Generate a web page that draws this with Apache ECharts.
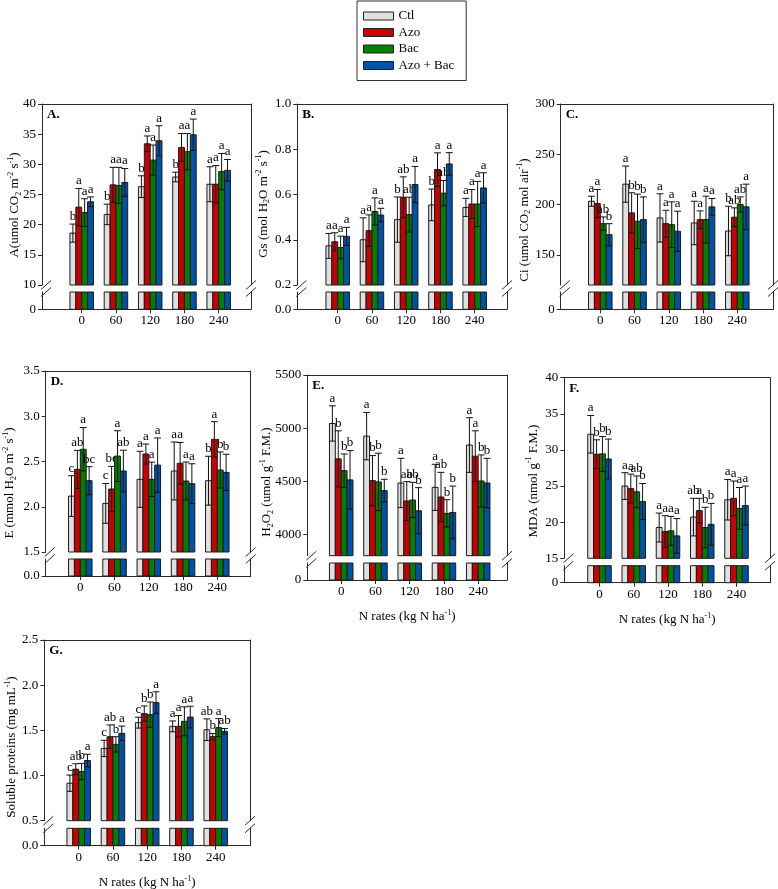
<!DOCTYPE html>
<html><head><meta charset="utf-8">
<script src="https://cdn.jsdelivr.net/npm/echarts@6/dist/echarts.min.js"></script>
<style>html,body{margin:0;padding:0;background:#fff}#chart{width:778px;height:889px}</style>
</head><body><div id="chart"></div>
<script>
// ---------------- DATA ----------------
const nRates = [0, 60, 120, 180, 240];
const treatments = ['Ctl', 'Azo', 'Bac', 'Azo + Bac'];

// rows: Ctl, Azo, Bac, Azo+Bac ; columns: N rates
const A_mean = [[18.6, 21.7, 26.3, 27.9, 26.7],[22.9, 26.6, 33.4, 32.8, 26.7],[22.0, 26.5, 30.7, 32.1, 28.8],[23.8, 27.0, 33.9, 34.9, 29.0]];
const A_sd   = [[1.5, 1.7, 1.8, 0.8, 2.9],[3.1, 2.9, 1.3, 2.3, 3.1],[2.3, 3.0, 2.5, 3.0, 3.0],[0.8, 2.3, 2.5, 2.6, 1.8]];
const A_sig  = [['b','b','b','b','a'],['a','a','a','a','a'],['a','a','a','a','a'],['a','a','a','a','a']];
const A_ticks = [10, 15, 20, 25, 30, 35, 40];

const B_mean = [[0.373, 0.40, 0.489, 0.554, 0.543],[0.391, 0.44, 0.588, 0.71, 0.558],[0.366, 0.525, 0.511, 0.606, 0.558],[0.415, 0.509, 0.644, 0.735, 0.629]];
const B_sd   = [[0.055, 0.097, 0.10, 0.07, 0.04],[0.04, 0.07, 0.09, 0.074, 0.064],[0.05, 0.06, 0.077, 0.056, 0.10],[0.04, 0.03, 0.08, 0.05, 0.067]];
const B_sig  = [['a','a','b','b','a'],['a','a','ab','a','a'],['a','a','ab','ab','a'],['a','a','a','a','a']];
const B_ticks = [0.2, 0.4, 0.6, 0.8, 1.0];

const C_mean = [[203.3, 220.3, 186.7, 181.7, 173.7],[201, 191.7, 181, 185, 187.4],[181, 183.4, 180, 185, 200],[170, 185, 173.4, 197.7, 197.7]];
const C_sd   = [[5, 18, 24, 21.6, 24.6],[14, 20, 13.3, 8.7, 9.3],[6.7, 27, 22.7, 23.3, 7.6],[11, 22.6, 20, 8.3, 22.6]];
const C_sig  = [['a','a','a','a','b'],['a','b','a','a','ab'],['ab','b','a','a','ab'],['b','b','a','a','a']];
const C_ticks = [150, 200, 250, 300];

const D_mean = [[2.118, 2.037, 2.303, 2.395, 2.288],[2.413, 2.196, 2.583, 2.48, 2.745],[2.635, 2.56, 2.303, 2.284, 2.406],[2.288, 2.395, 2.46, 2.255, 2.38]];
const D_sd   = [[0.225, 0.22, 0.31, 0.32, 0.27],[0.21, 0.25, 0.11, 0.23, 0.195],[0.24, 0.28, 0.19, 0.21, 0.2],[0.155, 0.23, 0.3, 0.22, 0.2]];
const D_sig  = [['c','c','a','a','b'],['ab','bc','a','a','a'],['a','a','a','a','b'],['bc','ab','a','a','b']];
const D_ticks = [1.5, 2.0, 2.5, 3.0, 3.5];

const E_mean = [[5044, 4925, 4484, 4443, 4841],[4711, 4506, 4315, 4352, 4736],[4600, 4494, 4324, 4198, 4503],[4513, 4412, 4223, 4207, 4484]];
const E_sd   = [[166, 223, 232, 217, 257],[264, 236, 182, 232, 239],[157, 270, 166, 129, 245],[276, 107, 217, 248, 232]];
const E_sig  = [['a','a','a','a','a'],['b','b','ab','ab','a'],['b','b','ab','b','b'],['b','b','b','b','b']];
const E_ticks = [4000, 4500, 5000, 5500];

const F_mean = [[32.17, 25.0, 19.26, 20.7, 23.1],[29.4, 24.65, 18.7, 21.6, 23.3],[29.45, 24.2, 18.8, 19.26, 21.9],[28.75, 22.85, 18.1, 19.7, 22.3]];
const F_sd   = [[2.6, 1.85, 2.0, 2.6, 2.8],[2.0, 2.0, 2.2, 1.7, 2.4],[2.4, 2.2, 2.0, 2.8, 2.9],[2.75, 2.5, 2.4, 2.9, 2.7]];
const F_sig  = [['a','a','a','ab','a'],['b','a','a','a','a'],['b','ab','a','b','a'],['b','b','a','b','a']];
const F_ticks = [15, 20, 25, 30, 35, 40];

const G_mean = [[0.915, 1.30, 1.585, 1.544, 1.507],[1.07, 1.43, 1.685, 1.544, 1.43],[1.044, 1.345, 1.674, 1.6, 1.53],[1.166, 1.467, 1.807, 1.647, 1.49]];
const G_sd   = [[0.09, 0.09, 0.06, 0.06, 0.12],[0.06, 0.13, 0.085, 0.12, 0.035],[0.09, 0.085, 0.14, 0.16, 0.1],[0.07, 0.08, 0.12, 0.12, 0.03]];
const G_sig  = [['c','c','c','a','ab'],['ab','ab','b','a','b'],['b','b','b','a','a'],['a','a','a','a','ab']];
const G_ticks = [0.5, 1.0, 1.5, 2.0, 2.5];

const yTitles = {
  A: 'A(umol CO{sub|2} m{sup|-2} s{sup|-1})',
  B: 'Gs (mol H{sub|2}O m{sup|-2} s{sup|-1})',
  C: 'Ci (umol CO{sub|2} mol air{sup|-1})',
  D: 'E (mmol H{sub|2}O m{sup|-2} s{sup|-1})',
  E: 'H{sub|2}O{sub|2} (umol g{sup|-1} F.M.)',
  F: 'MDA (nmol g{sup|-1} F.M.)',
  G: 'Soluble proteins (mg mL{sup|-1})'
};
const xTitle = 'N rates (kg N ha{sup|-1})';

// ---------------- LAYOUT / STYLE ----------------
const COLORS = ['#e0e0e0', '#cc0000', '#008000', '#0052a6'];
const FONT = '"Liberation Serif","Times New Roman",serif';
const PXU = 34.25 / 60;      // px per N unit
const BW = 10.3;             // bar width in N units
const panels = [
  {id:'A', mean:A_mean, sd:A_sd, sig:A_sig, ticks:A_ticks, ymin:10,   ymax:40,   dec:0, L:42,    R:251,   x0:81.7,  T:104,   UB:285,   LT:292,   B:309.3, tx:15,    ty:205, xt:false},
  {id:'B', mean:B_mean, sd:B_sd, sig:B_sig, ticks:B_ticks, ymin:0.2,  ymax:1.0,  dec:1, L:297.3, R:507,   x0:337.7, T:104,   UB:285,   LT:292,   B:309.3, tx:263.3, ty:204, xt:false},
  {id:'C', mean:C_mean, sd:C_sd, sig:C_sig, ticks:C_ticks, ymin:120,  ymax:300,  dec:0, L:560.7, R:773,   x0:600.3, T:104,   UB:285,   LT:292,   B:309.3, tx:524.3, ty:220, xt:false},
  {id:'D', mean:D_mean, sd:D_sd, sig:D_sig, ticks:D_ticks, ymin:1.5,  ymax:3.5,  dec:1, L:45.7,  R:250.7, x0:80.3,  T:371,   UB:552,   LT:559,   B:576,   tx:10,    ty:483, xt:false},
  {id:'E', mean:E_mean, sd:E_sd, sig:E_sig, ticks:E_ticks, ymin:3800, ymax:5500, dec:0, L:307.3, R:507,   x0:341.2, T:375,   UB:555.7, LT:563,   B:580,   tx:266.7, ty:482, xt:true},
  {id:'F', mean:F_mean, sd:F_sd, sig:F_sig, ticks:F_ticks, ymin:15,   ymax:40,   dec:0, L:564.3, R:770,   x0:599.5, T:377.7, UB:558.3, LT:565.7, B:582.7, tx:533.3, ty:481, xt:true},
  {id:'G', mean:G_mean, sd:G_sd, sig:G_sig, ticks:G_ticks, ymin:0.5,  ymax:2.5,  dec:1, L:44.3,  R:250,   x0:78.7,  T:640,   UB:820.7, LT:828.3, B:845.7, tx:11.7,  ty:747, xt:true}
];

const LINE = '#2a2a2a';
const grids = [], xAxes = [], yAxes = [], series = [], graphics = [];
const richT = {
  sup: {fontSize: 8, lineHeight: 8, verticalAlign: 'top', fontFamily: FONT, fill: '#000', color: '#000'},
  sub: {fontSize: 8, lineHeight: 8, verticalAlign: 'bottom', fontFamily: FONT, fill: '#000', color: '#000'}
};

function makeRender(p, k, part) {
  return function (params, api) {
    const x = api.value(0), m = api.value(1), sd = api.value(2);
    const lo = part === 'upper' ? p.ymin : 0;
    const hi = part === 'upper' ? p.ymax : p.ymin;
    const left = x - 2 * BW + k * BW;
    const pTop = api.coord([left, Math.min(m, hi)]);
    const pBase = api.coord([left, lo]);
    const w = api.size([BW, 0])[0];
    const ch = [{
      type: 'rect',
      shape: {x: pTop[0], y: pTop[1], width: w, height: pBase[1] - pTop[1]},
      style: {fill: COLORS[k], stroke: '#1a1a1a', lineWidth: 1}
    }];
    if (part === 'upper') {
      const cx = pTop[0] + w / 2;
      const yHi = api.coord([x, m + sd])[1];
      const yLo = api.coord([x, Math.max(m - sd, p.ymin)])[1];
      const st = {stroke: '#111', lineWidth: 1};
      ch.push({type: 'line', shape: {x1: cx, y1: yHi, x2: cx, y2: yLo}, style: st});
      ch.push({type: 'line', shape: {x1: cx - w / 2 - 0.5, y1: yHi, x2: cx + w / 2 + 0.5, y2: yHi}, style: st});
      if (m - sd > p.ymin) ch.push({type: 'line', shape: {x1: cx - w / 2, y1: yLo, x2: cx + w / 2, y2: yLo}, style: st});
      ch.push({type: 'text', x: cx, y: yHi - 1,
        style: {text: p.sig[k][params.dataIndex], font: '13px ' + FONT, fill: '#000',
                align: 'center', verticalAlign: 'bottom', textAlign: 'center', textVerticalAlign: 'bottom'}});
    }
    return {type: 'group', children: ch};
  };
}

panels.forEach((p, pi) => {
  const xmin = -(p.x0 - p.L) / PXU, xmax = (p.R - p.x0) / PXU;
  const gU = grids.length;
  grids.push({left: p.L, top: p.T, width: p.R - p.L, height: p.UB - p.T, containLabel: false, outerBoundsMode: 'none'});
  const gL = grids.length;
  grids.push({left: p.L, top: p.LT, width: p.R - p.L, height: p.B - p.LT, containLabel: false, outerBoundsMode: 'none'});
  const fmt = v => Number(v).toFixed(p.dec);

  const xU = xAxes.length;
  xAxes.push({type: 'value', gridIndex: gU, min: xmin, max: xmax, position: 'top',
    axisLine: {show: true, onZero: false, lineStyle: {color: LINE, width: 1}},
    axisTick: {show: false}, axisLabel: {show: false}, splitLine: {show: false}});
  const xL = xAxes.length;
  const xa = {type: 'value', gridIndex: gL, min: xmin, max: xmax, position: 'bottom',
    axisLine: {show: true, onZero: false, lineStyle: {color: LINE, width: 1}},
    axisTick: {show: true, inside: false, length: 4, customValues: nRates, lineStyle: {color: LINE}},
    axisLabel: {show: true, customValues: nRates, margin: 5, fontFamily: FONT, fontSize: 13, color: '#000',
                formatter: v => String(Math.round(v))},
    splitLine: {show: false}};
  if (p.xt) {
    xa.name = xTitle; xa.nameLocation = 'middle'; xa.nameGap = 29;
    xa.nameTextStyle = {fontFamily: FONT, fontSize: 13, color: '#000', lineHeight: 16, rich: richT};
  }
  xAxes.push(xa);

  const yUL = yAxes.length;
  yAxes.push({type: 'value', gridIndex: gU, min: p.ymin, max: p.ymax, position: 'left',
    axisLine: {show: true, onZero: false, lineStyle: {color: LINE, width: 1}},
    axisTick: {show: true, length: 4, customValues: p.ticks, lineStyle: {color: LINE}},
    axisLabel: {show: true, customValues: p.ticks, margin: 6, fontFamily: FONT, fontSize: 13, color: '#000', formatter: fmt},
    splitLine: {show: false}});
  yAxes.push({type: 'value', gridIndex: gU, min: p.ymin, max: p.ymax, position: 'right',
    axisLine: {show: true, onZero: false, lineStyle: {color: LINE, width: 1}},
    axisTick: {show: false}, axisLabel: {show: false}, splitLine: {show: false}});
  const yLL = yAxes.length;
  yAxes.push({type: 'value', gridIndex: gL, min: 0, max: p.ymin, position: 'left',
    axisLine: {show: true, onZero: false, lineStyle: {color: LINE, width: 1}},
    axisTick: {show: true, length: 4, customValues: [0], lineStyle: {color: LINE}},
    axisLabel: {show: true, customValues: [0], margin: 6, fontFamily: FONT, fontSize: 13, color: '#000', formatter: fmt},
    splitLine: {show: false}});
  yAxes.push({type: 'value', gridIndex: gL, min: 0, max: p.ymin, position: 'right',
    axisLine: {show: true, onZero: false, lineStyle: {color: LINE, width: 1}},
    axisTick: {show: false}, axisLabel: {show: false}, splitLine: {show: false}});

  for (let k = 0; k < 4; k++) {
    const data = nRates.map((n, i) => [n, p.mean[k][i], p.sd[k][i]]);
    series.push({type: 'custom', name: treatments[k], xAxisIndex: xU, yAxisIndex: yUL,
      renderItem: makeRender(p, k, 'upper'), data: data, encode: {x: 0, y: 1},
      itemStyle: {color: COLORS[k]}, silent: true, animation: false});
    series.push({type: 'custom', name: treatments[k], xAxisIndex: xL, yAxisIndex: yLL,
      renderItem: makeRender(p, k, 'lower'), data: data, encode: {x: 0, y: 1},
      itemStyle: {color: COLORS[k]}, silent: true, animation: false});
  }

  // y title
  graphics.push({type: 'text', x: p.tx, y: p.ty, rotation: Math.PI / 2,
    style: {text: yTitles[p.id], rich: richT, fontFamily: FONT, fontSize: 13, lineHeight: 16, fill: '#000',
            align: 'center', verticalAlign: 'middle', textAlign: 'center', textVerticalAlign: 'middle'}});
  // panel letter
  graphics.push({type: 'text', x: p.L + 5, y: p.T + 4,
    style: {text: p.id + '.', font: 'bold 13px ' + FONT, fill: '#000', align: 'left', verticalAlign: 'top',
            textAlign: 'left', textVerticalAlign: 'top'}});
  // break marks (left ones sit just right of the axis, right ones centred on the frame)
  [[p.L, 4], [p.R, 0]].forEach(([ax, off]) => {
    [p.UB, p.LT].forEach(yb => {
      graphics.push({type: 'line', shape: {x1: ax + off - 5, y1: yb + 4.5, x2: ax + off + 5, y2: yb - 4.5},
        style: {stroke: LINE, lineWidth: 1}});
    });
  });
});

const chart = echarts.init(document.getElementById('chart'), null, {renderer: 'canvas'});
chart.setOption({
  backgroundColor: '#fff',
  animation: false,
  legend: {
    left: 357, top: 1, orient: 'vertical',
    data: treatments.map((t, k) => ({name: t, icon: 'rect', itemStyle: {color: COLORS[k], borderColor: '#222', borderWidth: 1}})),
    itemWidth: 30, itemHeight: 8, itemGap: 2.5,
    padding: [8, 12, 8, 6],
    borderColor: '#333', borderWidth: 1, selectedMode: false,
    textStyle: {fontFamily: FONT, fontSize: 13, color: '#000', lineHeight: 14}
  },
  grid: grids, xAxis: xAxes, yAxis: yAxes, series: series, graphic: graphics
});
</script></body></html>
